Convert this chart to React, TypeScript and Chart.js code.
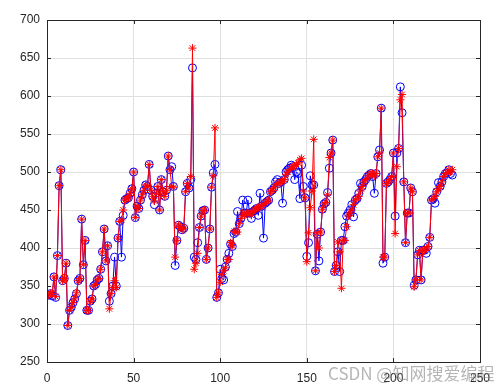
import { useEffect, useRef } from "react";
import { Chart, registerables } from "chart.js";

Chart.register(...registerables);

// Actual values (blue circles), sample index 1..N
const actual = [
  338, 340, 337, 362, 335, 390, 482, 503, 357, 360,
  380, 298, 318, 322, 328, 333, 340, 357, 360, 438,
  378, 410, 318, 318, 330, 333, 350, 352, 358, 360,
  372, 395, 425, 383, 403, 330, 340, 350, 388, 350,
  413, 435, 388, 443, 463, 465, 466, 472, 478, 500,
  440, 455, 452, 463, 470, 476, 483, 481, 510, 476,
  468, 457, 472, 481, 450, 490, 474, 468, 476, 521,
  503, 507, 481, 377, 410, 430, 428, 424, 426, 474,
  485, 479, 490, 637, 388, 385, 407, 427, 442, 449,
  450, 385, 400, 425, 480, 499, 510, 335, 341, 372,
  360, 358, 375, 385, 393, 405, 402, 419, 421, 448,
  432, 439, 463, 446, 446, 463, 446, 439, 448, 450,
  452, 443, 472, 455, 413, 459, 461, 463, 474, 476,
  479, 487, 490, 485, 487, 459, 490, 500, 503, 505,
  509, 507, 490, 500, 498, 465, 509, 481, 466, 389,
  407, 495, 483, 483, 370, 418, 383, 421, 451, 458,
  460, 473, 505, 525, 542, 369, 377, 395, 369, 410,
  410, 428, 442, 446, 450, 457, 441, 463, 465, 472,
  485, 481, 487, 490, 494, 496, 498, 494, 472, 498,
  520, 529, 584, 380, 388, 485, 487, 490, 494, 525,
  442, 525, 531, 612, 578, 487, 407, 446, 446, 479,
  474, 351, 358, 391, 397, 358, 397, 397, 393, 402,
  414, 463, 465, 459, 474, 486, 481, 487, 494, 498,
  499, 503, 498, 496,
];

// Predicted values (red stars)
const predicted = [
  338, 340, 340, 362, 336, 390, 482, 503, 357, 360,
  380, 298, 318, 322, 328, 333, 341, 357, 360, 438,
  378, 410, 318, 318, 330, 333, 350, 352, 358, 360,
  372, 395, 425, 383, 403, 320, 340, 348, 357, 348,
  413, 435, 437, 450, 463, 465, 466, 472, 478, 500,
  440, 455, 452, 463, 470, 476, 483, 481, 510, 476,
  468, 462, 472, 481, 450, 490, 474, 468, 476, 521,
  503, 481, 480, 388, 410, 430, 428, 424, 426, 474,
  485, 479, 494, 663, 372, 380, 393, 427, 442, 449,
  450, 385, 400, 425, 480, 495, 558, 335, 341, 355,
  365, 370, 374, 385, 385, 407, 403, 422, 421, 421,
  432, 439, 446, 443, 446, 446, 446, 443, 448, 450,
  452, 453, 455, 455, 457, 459, 461, 463, 474, 476,
  479, 483, 485, 485, 487, 488, 490, 497, 500, 503,
  505, 507, 508, 510, 512, 516, 518, 475, 466, 382,
  420, 453, 475, 543, 370, 420, 400, 421, 451, 458,
  460, 470, 519, 525, 542, 369, 377, 408, 395, 347,
  410, 410, 428, 442, 446, 450, 457, 463, 465, 468,
  475, 481, 487, 490, 492, 496, 498, 498, 495, 498,
  520, 525, 584, 388, 388, 485, 487, 490, 494, 525,
  419, 507, 531, 595, 602, 487, 407, 446, 446, 479,
  474, 349, 358, 391, 397, 358, 397, 397, 400, 402,
  414, 463, 465, 468, 474, 478, 481, 487, 494, 498,
  499, 503, 500, 503,
];

const xTickValues = [0, 50, 100, 150, 200, 250];
const yTickValues = [250, 300, 350, 400, 450, 500, 550, 600, 650, 700];

const FONT = "'Liberation Sans', Arial, sans-serif";

const boxPlugin = {
  id: "matlabBox",
  afterDraw(chart: any) {
    const { ctx, chartArea } = chart;
    const { left, right, top, bottom } = chartArea;
    const xs = chart.scales.x;
    const ys = chart.scales.y;
    ctx.save();
    ctx.strokeStyle = "#262626";
    ctx.lineWidth = 1;
    ctx.beginPath();
    const tl = 4;
    xTickValues.forEach((v) => {
      const px = Math.round(xs.getPixelForValue(v)) + 0.5;
      ctx.moveTo(px, bottom);
      ctx.lineTo(px, bottom - tl);
      ctx.moveTo(px, top);
      ctx.lineTo(px, top + tl);
    });
    yTickValues.forEach((v) => {
      const py = Math.round(ys.getPixelForValue(v)) + 0.5;
      ctx.moveTo(left, py);
      ctx.lineTo(left + tl, py);
      ctx.moveTo(right, py);
      ctx.lineTo(right - tl, py);
    });
    ctx.stroke();
    ctx.strokeRect(Math.round(left) + 0.5, Math.round(top) + 0.5, Math.round(right - left), Math.round(bottom - top));
    ctx.restore();
  },
};

export default function App() {
  const ref = useRef<HTMLCanvasElement>(null);

  useEffect(() => {
    document.body.style.margin = "0";
    const canvas = ref.current;
    if (!canvas) return;
    const toPts = (arr: number[]) => arr.map((y, i) => ({ x: i + 1, y }));
    const chart = new Chart(canvas, {
      type: "line",
      data: {
        datasets: [
          {
            label: "predicted",
            data: toPts(predicted),
            borderColor: "#ff0000",
            backgroundColor: "#ff0000",
            pointStyle: "star",
            pointRadius: 4,
            pointBorderWidth: 1,
            borderWidth: 1,
            pointBorderColor: "#ff0000",
            tension: 0,
            order: 0,
          },
          {
            label: "actual",
            data: toPts(actual),
            borderColor: "#0000ff",
            backgroundColor: "rgba(0,0,0,0)",
            pointStyle: "circle",
            pointRadius: 4,
            pointBorderWidth: 1,
            borderWidth: 1,
            pointBorderColor: "#0000ff",
            tension: 0,
            order: 1,
          },
        ],
      },
      options: {
        animation: false,
        responsive: false,
        devicePixelRatio: 1,
        layout: { padding: { top: 20, right: 22, left: 0, bottom: 0 } },
        plugins: { legend: { display: false }, tooltip: { enabled: false } },
        scales: {
          x: {
            type: "linear",
            min: 0,
            max: 250,
            afterBuildTicks: (s: any) => {
              s.ticks = xTickValues.map((v) => ({ value: v }));
            },
            afterFit: (s: any) => {
              s.height = 28;
            },
            ticks: {
              color: "#262626",
              font: { family: FONT, size: 12 },
              padding: 9,
              maxRotation: 0,
            },
            grid: { color: "#dfdfdf", drawTicks: false },
            border: { display: false },
          },
          y: {
            type: "linear",
            min: 250,
            max: 700,
            afterBuildTicks: (s: any) => {
              s.ticks = yTickValues.map((v) => ({ value: v }));
            },
            afterFit: (s: any) => {
              s.width = 47;
            },
            ticks: {
              color: "#262626",
              font: { family: FONT, size: 12 },
              padding: 7,
            },
            grid: { color: "#dfdfdf", drawTicks: false },
            border: { display: false },
          },
        },
      },
      plugins: [boxPlugin],
    });
    return () => chart.destroy();
  }, []);

  return (
    <div style={{ position: "relative", width: 502, height: 390, background: "#fff" }}>
      <canvas ref={ref} width={502} height={390} style={{ display: "block" }} />
      <div
        style={{
          position: "absolute",
          left: 328,
          top: 360,
          fontFamily: "'Noto Sans CJK SC', sans-serif",
          fontSize: 17,
          color: "rgba(120,120,120,0.55)",
          whiteSpace: "nowrap",
        }}
      >
        CSDN @知网搜爱编程
      </div>
    </div>
  );
}
